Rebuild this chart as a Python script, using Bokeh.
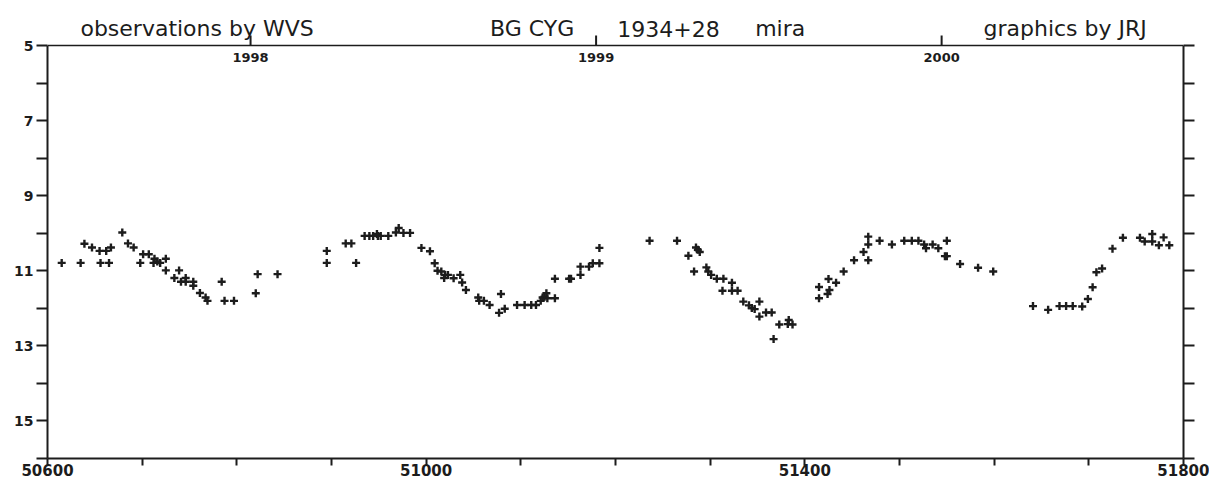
from bokeh.plotting import figure
from bokeh.models import FixedTicker, LinearAxis, Range1d, ColumnDataSource
from bokeh.core.properties import value
from bokeh.embed import file_html
from bokeh.resources import INLINE

# --- data -----------------------------------------------------------------
jd = [
    50615, 50635, 50639, 50647, 50655, 50656, 50662, 50665, 50667, 50679,
    50685, 50691, 50698, 50701, 50707, 50712, 50713, 50716, 50719, 50725,
    50725, 50734, 50739, 50741, 50746, 50746, 50754, 50754, 50761, 50767,
    50769, 50784, 50787, 50797, 50820, 50822, 50843,
    50895, 50895, 50915, 50921, 50926, 50935, 50940, 50944, 50948, 50949,
    50952, 50960, 50968, 50971, 50976, 50983, 50995, 51004, 51009, 51012,
    51016, 51019, 51020, 51023, 51029, 51036, 51038, 51042, 51055, 51056,
    51061, 51067, 51077, 51079, 51083, 51096, 51104, 51111, 51116, 51121,
    51123, 51125, 51127, 51128, 51136, 51136, 51151, 51153, 51163, 51163,
    51172, 51176, 51183, 51183,
    51236, 51265, 51277, 51283, 51285, 51287, 51289, 51296, 51298, 51301,
    51307, 51313, 51314, 51323, 51323, 51329, 51335, 51341, 51344, 51347,
    51352, 51352, 51359, 51365, 51367, 51373, 51382, 51383, 51387,
    51415, 51415, 51424, 51425, 51426, 51433, 51441, 51452, 51462, 51467,
    51467, 51467, 51479, 51492, 51505, 51513, 51520, 51526, 51528, 51535,
    51541, 51548, 51550, 51550, 51564, 51583, 51599,
    51641, 51657, 51669, 51676, 51683, 51693, 51699, 51704, 51708, 51714,
    51725, 51736, 51754, 51759, 51767, 51767, 51774, 51779, 51785,
]
mag = [
    10.79, 10.79, 10.28, 10.38, 10.47, 10.79, 10.47, 10.79, 10.38, 9.98,
    10.27, 10.38, 10.79, 10.56, 10.56, 10.79, 10.68, 10.75, 10.79, 10.68,
    10.99, 11.19, 10.99, 11.29, 11.19, 11.29, 11.29, 11.40, 11.59, 11.71,
    11.80, 11.29, 11.80, 11.80, 11.60, 11.09, 11.09,
    10.47, 10.79, 10.27, 10.27, 10.79, 10.07, 10.07, 10.07, 10.02, 10.07,
    10.07, 10.07, 9.98, 9.86, 9.99, 9.99, 10.39, 10.48, 10.80, 11.00,
    11.02, 11.19, 11.11, 11.11, 11.20, 11.11, 11.31, 11.51, 11.71, 11.80,
    11.80, 11.91, 12.12, 11.62, 12.01, 11.91, 11.91, 11.91, 11.91, 11.80,
    11.71, 11.69, 11.60, 11.73, 11.73, 11.21, 11.21, 11.21, 11.11, 10.89,
    10.89, 10.80, 10.80, 10.39,
    10.20, 10.20, 10.60, 11.02, 10.38, 10.44, 10.50, 10.91, 11.02, 11.11,
    11.21, 11.53, 11.21, 11.32, 11.53, 11.53, 11.82, 11.92, 11.99, 12.02,
    11.82, 12.22, 12.11, 12.11, 12.82, 12.43, 12.42, 12.31, 12.43,
    11.43, 11.73, 11.62, 11.22, 11.51, 11.32, 11.02, 10.72, 10.50, 10.09,
    10.30, 10.72, 10.20, 10.30, 10.20, 10.20, 10.20, 10.30, 10.40, 10.30,
    10.40, 10.61, 10.61, 10.20, 10.82, 10.92, 11.02,
    11.94, 12.04, 11.94, 11.94, 11.94, 11.95, 11.75, 11.44, 11.04, 10.94,
    10.41, 10.12, 10.12, 10.22, 10.02, 10.22, 10.32, 10.11, 10.32,
]

x_labels = [50600, 51000, 51400, 51800]
x_minor = [50700, 50800, 50900, 51100, 51200, 51300, 51500, 51600, 51700]
y_labels = [5, 7, 9, 11, 13, 15]
y_minor = [6, 8, 10, 12, 14, 16]
years = ["1998", "1999", "2000"]
year_jd = [50814.5, 51179.5, 51544.5]
# header: "observations by WVS", "BG CYG  1934+28  mira", "graphics by JRJ"
header_parts = ["observations by WVS", "BG CYG", "1934+28", "mira",
                "graphics by JRJ"]
header_x = [50758, 51112, 51256, 51374, 51675]

X0, X1 = 50600, 51800
MAG_TOP, MAG_BOT = 5, 16
HEADER_TOP = 3.8          # extra room above magnitude 5 for the header
INK = "#1c1c1c"
FONT = value("DejaVu Sans")

p = figure(frame_width=1136, frame_height=458,
           x_range=Range1d(X0, X1), y_range=Range1d(MAG_BOT, HEADER_TOP),
           output_backend="svg", toolbar_location=None,
           min_border_left=47, min_border_right=26, min_border_top=0,
           min_border_bottom=0, background_fill_color="white",
           border_fill_color="white")
p.grid.visible = False
p.outline_line_color = None

# bottom axis
xa = p.xaxis[0]
xa.ticker = FixedTicker(ticks=x_labels, minor_ticks=x_minor)
xa.axis_line_color = INK
xa.axis_line_width = 2
xa.major_tick_in = 0
xa.major_tick_out = 7
xa.minor_tick_in = 0
xa.minor_tick_out = 7
xa.major_tick_line_color = INK
xa.minor_tick_line_color = INK
xa.major_tick_line_width = 2
xa.minor_tick_line_width = 2
xa.major_label_standoff = -2
xa.major_label_text_font = "DejaVu Sans"
xa.major_label_text_font_style = "bold"
xa.major_label_text_font_size = "15px"
xa.major_label_text_color = INK

# left axis
ya = p.yaxis[0]
ya.ticker = FixedTicker(ticks=y_labels, minor_ticks=y_minor)
ya.bounds = (MAG_TOP, MAG_BOT)
ya.axis_line_color = INK
ya.axis_line_width = 2
ya.major_tick_in = 0
ya.major_tick_out = 11
ya.minor_tick_in = 0
ya.minor_tick_out = 11
ya.major_tick_line_color = INK
ya.minor_tick_line_color = INK
ya.major_tick_line_width = 2
ya.minor_tick_line_width = 2
ya.major_label_standoff = 3
ya.major_label_text_font = "DejaVu Sans"
ya.major_label_text_font_style = "bold"
ya.major_label_text_font_size = "14px"
ya.major_label_text_color = INK

# right axis (ticks only)
ra = LinearAxis(ticker=FixedTicker(ticks=y_labels + y_minor))
ra.bounds = (MAG_TOP, MAG_BOT)
ra.axis_line_color = INK
ra.axis_line_width = 2
ra.major_tick_in = 0
ra.major_tick_out = 11
ra.minor_tick_line_color = None
ra.major_tick_line_color = INK
ra.major_tick_line_width = 2
ra.major_label_text_font_size = "0px"
ra.major_label_overrides = {v: "" for v in y_labels + y_minor}
p.add_layout(ra, "right")

# top border line at magnitude 5 with year ticks pointing up
px_per_mag = 458 / (MAG_BOT - HEADER_TOP)
tick_len = 10 / px_per_mag
p.segment(x0=[X0], y0=[MAG_TOP], x1=[X1], y1=[MAG_TOP],
          line_color=INK, line_width=1.5)
p.segment(x0=year_jd, y0=[MAG_TOP] * len(year_jd), x1=year_jd,
          y1=[MAG_TOP - tick_len] * len(year_jd),
          line_color=INK, line_width=2)

# year labels just inside the frame
p.text(x=year_jd, y=[MAG_TOP + 12 / px_per_mag] * len(years), text=years,
       text_align="center", text_baseline="middle",
       text_font=FONT, text_font_style="bold",
       text_font_size="13px", text_color=INK)

# header texts
p.text(x=header_x, y=[MAG_TOP - 17 / px_per_mag] * len(header_parts),
       text=header_parts, text_align="center", text_baseline="alphabetic",
       text_font=FONT, text_font_size="22px", text_color=INK)

# observations
src = ColumnDataSource(dict(jd=jd, mag=mag))
p.scatter("jd", "mag", source=src, marker="cross", size=8,
          line_width=2.4, line_color=INK)

open("out.html", "w").write(file_html(p, INLINE))
